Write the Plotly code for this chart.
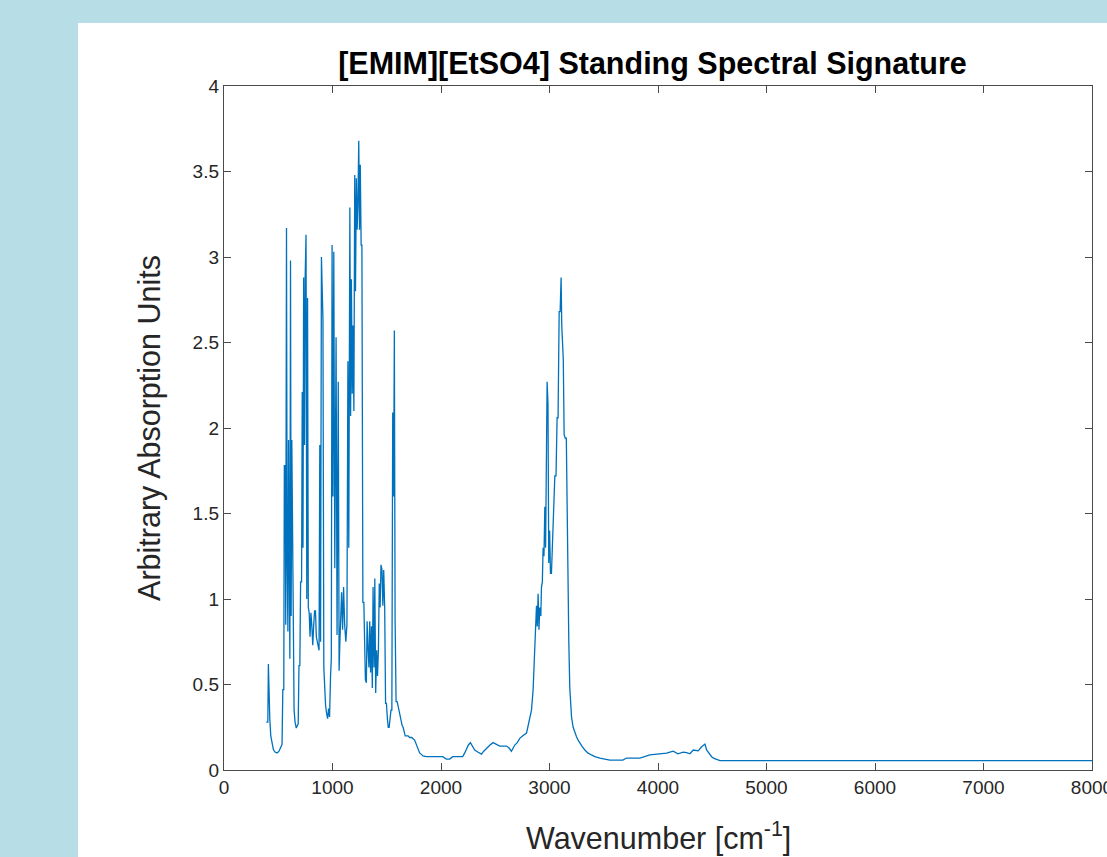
import plotly.graph_objects as go

# Wavenumber (cm^-1) and absorption values
wavenumber = [
    390, 404, 409, 415, 422, 431, 443, 455, 470, 489, 507, 521, 535, 542, 551, 556, 564, 569, 576, 582,
    589, 595, 601, 607, 613, 619, 625, 632, 637, 646, 655, 666, 676, 684, 691, 699, 706, 715, 721, 728,
    734, 742, 748, 756, 763, 770, 777, 785, 793, 801, 809, 818, 827, 835, 843, 851, 860, 868, 876, 883,
    890, 898, 906, 912, 920, 927, 936, 946, 955, 964, 973, 982, 989, 996, 1004, 1012, 1021, 1033, 1042, 1053,
    1061, 1068, 1077, 1084, 1093, 1102, 1112, 1123, 1133, 1142, 1150, 1160, 1167, 1174, 1182, 1189, 1197, 1205, 1212, 1220,
    1227, 1234, 1242, 1249, 1256, 1264, 1271, 1280, 1289, 1296, 1303, 1312, 1319, 1327, 1336, 1343, 1351, 1359, 1367, 1374,
    1383, 1390, 1398, 1407, 1415, 1423, 1431, 1439, 1447, 1456, 1464, 1472, 1481, 1489, 1497, 1506, 1514, 1522, 1530, 1539,
    1547, 1555, 1563, 1570, 1577, 1586, 1596, 1605, 1614, 1624, 1633, 1642, 1651, 1660, 1670, 1684, 1696, 1711, 1730, 1757,
    1771, 1788, 1803, 1822, 1834, 1865, 1942, 2016, 2050, 2080, 2108, 2172, 2200, 2219, 2234, 2251, 2271, 2288, 2311, 2339,
    2373, 2394, 2419, 2449, 2480, 2505, 2541, 2603, 2625, 2649, 2666, 2680, 2703, 2726, 2754, 2788, 2800, 2812, 2834, 2849,
    2864, 2874, 2880, 2887, 2895, 2903, 2910, 2920, 2926, 2934, 2941, 2949, 2957, 2964, 2970, 2978, 2986, 2993, 3001, 3009,
    3018, 3026, 3033, 3041, 3049, 3060, 3070, 3079, 3089, 3098, 3107, 3113, 3120, 3127, 3135, 3146, 3155, 3162, 3171, 3178,
    3187, 3203, 3218, 3233, 3249, 3264, 3279, 3303, 3326, 3353, 3387, 3418, 3464, 3510, 3556, 3630, 3676, 3710, 3768, 3833,
    3925, 4017, 4079, 4110, 4140, 4184, 4232, 4264, 4294, 4325, 4371, 4402, 4433, 4448, 4470, 4494, 4516, 4541, 4571, 8000,
]
absorption = [
    0.28, 0.28, 0.62, 0.40, 0.30, 0.20, 0.15, 0.12, 0.105, 0.10, 0.11, 0.13, 0.15, 0.47, 0.47, 1.78, 1.78, 0.85, 3.17, 1.20,
    0.81, 1.93, 0.75, 0.65, 2.98, 0.90, 1.93, 1.15, 0.64, 0.35, 0.28, 0.245, 0.26, 0.27, 0.61, 0.61, 1.10, 1.10, 2.21, 1.30,
    2.88, 1.90, 2.88, 3.13, 1.00, 2.76, 0.95, 0.92, 0.78, 0.92, 0.85, 0.73, 0.85, 0.93, 0.93, 0.78, 0.75, 0.72, 0.70, 1.90,
    0.75, 3.00, 2.63, 2.63, 0.60, 0.46, 0.38, 0.33, 0.30, 0.36, 0.31, 0.55, 0.65, 3.07, 1.60, 3.03, 1.18, 2.53, 0.79, 2.27,
    0.58, 0.75, 1.00, 1.04, 0.82, 1.07, 0.85, 0.75, 0.85, 2.39, 1.30, 3.29, 2.07, 2.87, 2.20, 2.60, 2.10, 3.48, 2.80, 3.46,
    3.16, 3.30, 3.68, 3.16, 3.54, 3.07, 3.07, 0.98, 0.98, 0.67, 0.53, 0.51, 0.87, 0.72, 0.60, 0.87, 0.57, 0.84, 0.48, 1.07,
    0.60, 1.12, 0.45, 0.70, 0.55, 0.70, 1.09, 0.95, 1.20, 1.17, 0.96, 1.17, 0.95, 0.39, 0.39, 0.30, 0.25, 0.25, 0.30, 0.35,
    0.35, 2.09, 1.60, 2.57, 0.88, 0.40, 0.40, 0.37, 0.34, 0.31, 0.28, 0.26, 0.25, 0.22, 0.20, 0.20, 0.20, 0.19, 0.19, 0.175,
    0.15, 0.117, 0.10, 0.09, 0.082, 0.078, 0.078, 0.078, 0.064, 0.064, 0.078, 0.078, 0.078, 0.10, 0.127, 0.145, 0.16, 0.14, 0.117, 0.105,
    0.093, 0.11, 0.127, 0.145, 0.16, 0.15, 0.14, 0.14, 0.13, 0.11, 0.13, 0.146, 0.16, 0.185, 0.20, 0.216, 0.25, 0.29, 0.35, 0.47,
    0.69, 0.84, 0.96, 0.84, 1.03, 0.82, 0.95, 0.90, 1.07, 1.10, 1.30, 1.25, 1.54, 1.30, 1.60, 2.27, 2.14, 1.21, 1.40, 1.15,
    1.15, 1.30, 1.40, 1.55, 1.72, 1.72, 2.06, 2.06, 2.68, 2.68, 2.88, 2.60, 2.50, 2.40, 1.96, 1.94, 1.94, 1.53, 0.99, 0.75,
    0.48, 0.31, 0.25, 0.22, 0.195, 0.175, 0.158, 0.135, 0.117, 0.10, 0.088, 0.078, 0.07, 0.062, 0.058, 0.058, 0.058, 0.07, 0.07, 0.07,
    0.088, 0.093, 0.099, 0.105, 0.11, 0.095, 0.105, 0.102, 0.095, 0.117, 0.112, 0.136, 0.152, 0.117, 0.095, 0.078, 0.068, 0.062, 0.055, 0.055,
]

x_ticks = [0, 1000, 2000, 3000, 4000, 5000, 6000, 7000, 8000]
y_ticks = [0, 0.5, 1, 1.5, 2, 2.5, 3, 3.5, 4]
y_tick_text = ["0", "0.5", "1", "1.5", "2", "2.5", "3", "3.5", "4"]

W, H = 1107, 857
L, R, T, B = 224, 1092, 86, 770
pw, ph = R - L, B - T
FONT = "Liberation Sans, Arial, Helvetica, sans-serif"

fig = go.Figure()
fig.add_trace(go.Scatter(
    x=wavenumber, y=absorption, mode="lines",
    line=dict(color="#0072BD", width=1.3),
    showlegend=False, hoverinfo="skip",
))

axis_common = dict(
    showline=True, linecolor="#4a4a4a", linewidth=1.4, mirror="ticks",
    ticks="inside", ticklen=7, tickwidth=1.4, tickcolor="#4a4a4a",
    showgrid=False, zeroline=False, ticklabeloverflow="allow",
    automargin=False,
    tickfont=dict(family=FONT, size=19, color="#262626"),
)

fig.update_layout(
    width=W, height=H,
    margin=dict(l=L, r=W - R, t=T, b=H - B, pad=0, autoexpand=False),
    paper_bgcolor="#b7dde7",
    plot_bgcolor="white",
    title=dict(
        text="<b>[EMIM][EtSO4] Standing Spectral Signature</b>",
        xref="paper", x=(652.5 - L) / pw, xanchor="center",
        yref="container", y=1 - 63 / H, yanchor="middle",
        font=dict(family=FONT, size=30.5, color="#000000"),
    ),
    xaxis=dict(
        range=[0, 8000], tickvals=x_ticks, ticktext=[str(v) for v in x_ticks],
        **axis_common,
    ),
    yaxis=dict(
        range=[0, 4], tickvals=y_ticks, ticktext=y_tick_text,
        title=dict(text="Arbitrary Absorption Units", standoff=22,
                   font=dict(family=FONT, size=30.5, color="#262626")),
        **axis_common,
    ),
    annotations=[dict(
        text="Wavenumber [cm<sup>-1</sup>]", showarrow=False,
        xref="paper", x=0.5, xanchor="center",
        yref="paper", y=(B - 837) / ph, yanchor="middle",
        font=dict(family=FONT, size=30.5, color="#262626"),
    )],
    shapes=[dict(
        type="rect", xref="paper", yref="paper", layer="below",
        x0=(78 - L) / pw, x1=(W + 20 - L) / pw,
        y0=(B - H - 20) / ph, y1=(B - 23) / ph,
        fillcolor="white", line=dict(width=0),
    )],
)

fig.write_html(
    "out.html",
    config={"displayModeBar": False},
    post_script="document.body.style.margin='0';document.body.style.overflow='hidden';",
)
